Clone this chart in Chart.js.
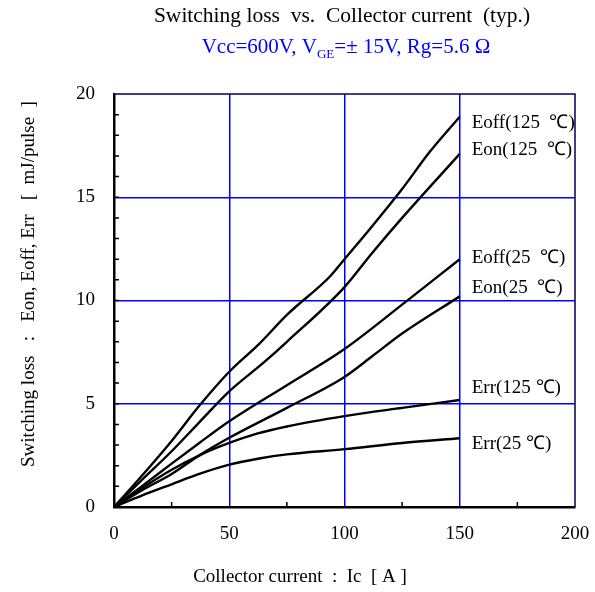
<!DOCTYPE html>
<html>
<head>
<meta charset="utf-8">
<script src="https://cdn.jsdelivr.net/npm/chart.js@4/dist/chart.umd.min.js"></script>
<style>
  html, body { margin: 0; padding: 0; background: #fff; }
  #wrap { width: 595px; height: 592px; }
</style>
</head>
<body>
<div id="wrap"><canvas id="chartSw" width="595" height="592"></canvas></div>
<script>
// curve data, Ic [A] -> loss [mJ/pulse]
const eoff125X = [0, 12, 25, 37, 50, 63, 75, 94, 100, 112, 125, 137, 150];
const eoff125Y = [0, 1.5, 3.2, 4.9, 6.55, 7.9, 9.3, 11.2, 12.0, 13.6, 15.4, 17.2, 18.9];
const eon125X = [0, 12, 25, 37, 50, 65, 75, 100, 112, 125, 150];
const eon125Y = [0, 1.3, 2.7, 4.1, 5.6, 7.0, 8.0, 10.65, 12.3, 14.0, 17.1];
const eoff25X = [0, 12, 25, 37, 50, 75, 100, 125, 150];
const eoff25Y = [0, 1.0, 2.1, 3.1, 4.15, 5.9, 7.65, 9.8, 12.0];
const eon25X = [0, 12, 25, 37, 50, 75, 100, 112, 125, 150];
const eon25Y = [0, 0.8, 1.6, 2.5, 3.35, 4.8, 6.3, 7.3, 8.4, 10.2];
const err125X = [0, 12, 25, 38, 50, 62, 75, 100, 125, 150];
const err125Y = [0, 0.9, 1.8, 2.55, 3.1, 3.55, 3.9, 4.4, 4.8, 5.18];
const err25X = [0, 12, 25, 37, 50, 63, 75, 100, 125, 150];
const err25Y = [0, 0.55, 1.1, 1.6, 2.05, 2.35, 2.55, 2.8, 3.1, 3.33];

const seriesNames = ['Eoff(125  ℃)', 'Eon(125  ℃)', 'Eoff(25  ℃)', 'Eon(25  ℃)', 'Err(125 ℃)', 'Err(25 ℃)'];
const xTicks = [0, 50, 100, 150, 200];
const yTicks = [0, 5, 10, 15, 20];

// label nudges in px (style, not data)
const labelDy = [6, -4, -1, -8, -12, 6];

const SERIF = '"Liberation Serif", "Times New Roman", serif';

function toPoints(xs, ys) {
    return xs.map((x, i) => ({ x: x, y: ys[i] }));
}

const _sets = [
    [eoff125X, eoff125Y], [eon125X, eon125Y], [eoff25X, eoff25Y],
    [eon25X, eon25Y], [err125X, err125Y], [err25X, err25Y]
].map((s, i) => ({
    label: seriesNames[i],
    data: toPoints(s[0], s[1]),
    borderColor: '#000',
    borderWidth: 2.4,
    pointRadius: 0,
    fill: false,
    cubicInterpolationMode: 'monotone'
}));

// titles, frame, inner ticks and curve labels
const decorPlugin = {
    id: 'decor',
    afterDraw(chart) {
        const ctx = chart.ctx;
        const a = chart.chartArea;
        const sx = chart.scales.x;
        const sy = chart.scales.y;
        ctx.save();

        // frame top / right
        ctx.strokeStyle = '#000050';
        ctx.lineWidth = 1.5;
        ctx.beginPath();
        ctx.moveTo(a.left, a.top);
        ctx.lineTo(a.right, a.top);
        ctx.lineTo(a.right, a.bottom);
        ctx.stroke();

        // inner minor ticks
        ctx.strokeStyle = '#000';
        ctx.lineWidth = 1.5;
        ctx.beginPath();
        for (let v = 25; v < 200; v += 50) {
            const px = sx.getPixelForValue(v);
            ctx.moveTo(px, a.bottom);
            ctx.lineTo(px, a.bottom - 5);
        }
        for (let v = 1; v < 20; v++) {
            const py = sy.getPixelForValue(v);
            ctx.moveTo(a.left, py);
            ctx.lineTo(a.left + 5, py);
        }
        ctx.stroke();

        // curve labels
        ctx.fillStyle = '#000';
        ctx.font = '19px ' + SERIF;
        ctx.textAlign = 'left';
        ctx.textBaseline = 'middle';
        chart.data.datasets.forEach((ds, i) => {
            const last = ds.data[ds.data.length - 1];
            const px = sx.getPixelForValue(last.x) + 12;
            const py = sy.getPixelForValue(last.y) + labelDy[i];
            ctx.fillText(ds.label, px, py);
        });

        // main title
        ctx.textAlign = 'center';
        ctx.textBaseline = 'alphabetic';
        ctx.font = '21.5px ' + SERIF;
        ctx.fillText('Switching loss  vs.  Collector current  (typ.)', 342, 22);

        // sub title with subscript
        ctx.fillStyle = '#0000ff';
        const parts = [
            ['Vcc=600V, V', 21, 0],
            ['GE', 13, 5],
            ['=± 15V, Rg=5.6 Ω', 21, 0]
        ];
        let total = 0;
        parts.forEach(p => { ctx.font = p[1] + 'px ' + SERIF; total += ctx.measureText(p[0]).width; });
        let x0 = 346 - total / 2;
        ctx.textAlign = 'left';
        parts.forEach(p => {
            ctx.font = p[1] + 'px ' + SERIF;
            ctx.fillText(p[0], x0, 53 + p[2]);
            x0 += ctx.measureText(p[0]).width;
        });

        // axis titles
        ctx.fillStyle = '#000';
        ctx.font = '19px ' + SERIF;
        ctx.textAlign = 'center';
        ctx.fillText('Collector current  :  Ic  [ A ]', 300, 582);
        ctx.save();
        ctx.translate(34, 284);
        ctx.rotate(-Math.PI / 2);
        ctx.fillText('Switching loss   :   Eon, Eoff, Err   [  mJ/pulse  ]', 0, 0);
        ctx.restore();

        ctx.restore();
    }
};

function gridColor(c) {
    const v = c.tick ? c.tick.value : 0;
    const max = c.scale.max;
    return (v === 0 || v === max) ? 'rgba(0,0,0,0)' : '#0000ff';
}

const chartSw = new Chart(document.getElementById('chartSw'), {
    type: 'line',
    data: { datasets: _sets },
    options: {
        responsive: false,
        animation: false,
        layout: { padding: { left: 0, top: 94, right: 20, bottom: 0 } },
        plugins: {
            legend: { display: false },
            tooltip: { enabled: false },
            title: { display: false }
        },
        scales: {
            x: {
                type: 'linear',
                min: 0,
                max: 200,
                afterFit(scale) {
                    scale.height = 85;
                    scale.paddingLeft = 0;
                    scale.paddingRight = 0;
                },
                afterBuildTicks(scale) { scale.ticks = xTicks.map(v => ({ value: v })); },
                grid: { color: gridColor, lineWidth: 1.5, drawTicks: false },
                border: { color: '#000', width: 2.5 },
                ticks: {
                    color: '#000',
                    padding: 16,
                    font: { family: SERIF, size: 19 }
                }
            },
            y: {
                type: 'linear',
                min: 0,
                max: 20,
                afterFit(scale) {
                    scale.width = 114;
                    scale.paddingTop = 0;
                    scale.paddingBottom = 0;
                },
                afterBuildTicks(scale) { scale.ticks = yTicks.map(v => ({ value: v })); },
                grid: { color: gridColor, lineWidth: 1.5, drawTicks: false },
                border: { color: '#000', width: 2.5 },
                ticks: {
                    color: '#000',
                    padding: 19,
                    font: { family: SERIF, size: 19 }
                }
            }
        }
    },
    plugins: [decorPlugin]
});
</script>
</body>
</html>
